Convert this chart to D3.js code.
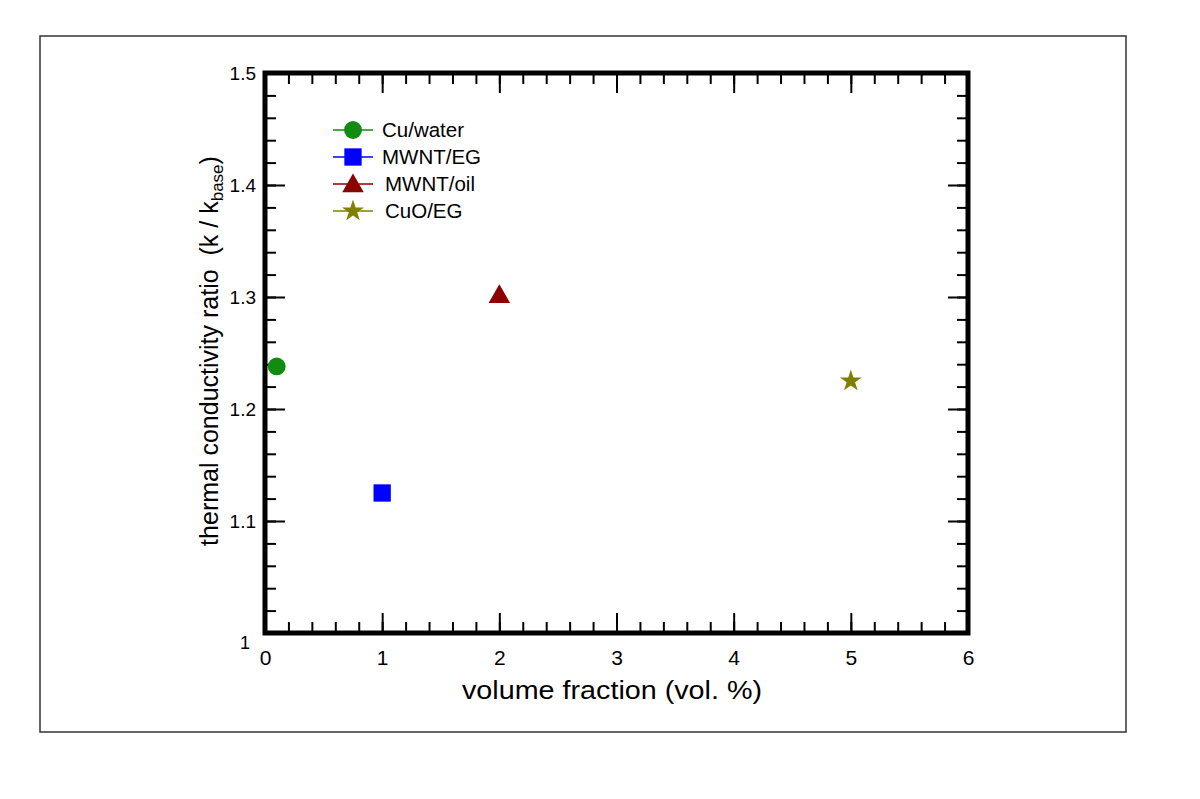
<!DOCTYPE html>
<html><head><meta charset="utf-8">
<script src="https://cdn.jsdelivr.net/npm/d3@7"></script>
<style>body{margin:0;background:#fff}svg{display:block}text{font-family:"Liberation Sans",Arial,sans-serif}</style>
</head><body><svg id="c" width="1200" height="799"></svg>
<script>
const seriesNames = ["Cu/water", "MWNT/EG", "MWNT/oil", "CuO/EG"];
const seriesX = [0.1, 1, 2, 5];
const seriesY = [1.238, 1.125, 1.302, 1.225];
const seriesColors = ["#118c11", "#0000ff", "#8b0000", "#808000"];
const seriesShapes = ["circle", "square", "triangle", "star"];
const xTicks = [0, 1, 2, 3, 4, 5, 6];
const yTicks = [1, 1.1, 1.2, 1.3, 1.4, 1.5];
const yTickLabels = ["1", "1.1", "1.2", "1.3", "1.4", "1.5"];

const svg = d3.select("#c");
const L = 265, R = 968, T = 73, B = 633;
const x = d3.scaleLinear().domain([0, 6]).range([L, R]);
const y = d3.scaleLinear().domain([1, 1.5]).range([B, T]);

// outer frame
svg.append("rect").attr("x", 40).attr("y", 36).attr("width", 1086).attr("height", 696)
  .attr("fill", "none").attr("stroke", "#333").attr("stroke-width", 1.5);

const xMinor = d3.range(0, 6.001, 0.2);
const yMinor = d3.range(1, 1.5001, 0.02);

function tickAxis(gen, pos, minor, major) {
  const gMin = svg.append("g").attr("transform", pos).call(gen.tickValues(minor).tickSize(-11).tickFormat(""));
  const gMaj = svg.append("g").attr("transform", pos).call(gen.tickValues(major).tickSize(-20).tickFormat(""));
  [gMin, gMaj].forEach(g => { g.select(".domain").remove(); g.selectAll("line").attr("stroke", "#000").attr("stroke-width", 2); });
}
tickAxis(d3.axisBottom(x), `translate(0,${B})`, xMinor, xTicks);
tickAxis(d3.axisTop(x), `translate(0,${T})`, xMinor, xTicks);
tickAxis(d3.axisLeft(y), `translate(${L},0)`, yMinor, yTicks);
tickAxis(d3.axisRight(y), `translate(${R},0)`, yMinor, yTicks);

// tick labels
const gxl = svg.append("g").attr("transform", `translate(0,${B})`)
  .call(d3.axisBottom(x).tickValues(xTicks).tickSize(0).tickPadding(17).tickFormat(d3.format("d")));
gxl.select(".domain").remove();
gxl.selectAll("text").attr("font-size", 21).attr("fill", "#000").attr("font-family", "Liberation Sans, Arial, sans-serif");
const gyl = svg.append("g").attr("transform", `translate(${L},0)`)
  .call(d3.axisLeft(y).tickValues(yTicks).tickSize(0).tickPadding(9).tickFormat((d, i) => yTickLabels[i]));
gyl.select(".domain").remove();
gyl.selectAll("text").attr("font-size", 19).attr("fill", "#000").attr("font-family", "Liberation Sans, Arial, sans-serif");
gyl.selectAll("text").filter(d => d === 1).attr("dy", "0.85em").attr("dx", "-6").attr("font-size", 18);

// frame
svg.append("rect").attr("x", L).attr("y", T).attr("width", R - L).attr("height", B - T)
  .attr("fill", "none").attr("stroke", "#000").attr("stroke-width", 5);

// axis titles
svg.append("text").attr("x", 612).attr("y", 699).attr("text-anchor", "middle")
  .attr("font-size", 25).attr("textLength", 300).attr("lengthAdjust", "spacingAndGlyphs")
  .text("volume fraction (vol. %)");
const yt = svg.append("text").attr("transform", `translate(218,351) rotate(-90)`)
  .attr("text-anchor", "middle").attr("font-size", 25);
yt.append("tspan").text("thermal conductivity ratio\u00a0\u00a0(k / k");
yt.append("tspan").attr("font-size", 17).attr("dy", 5).text("base");
yt.append("tspan").attr("dy", -5).text(")");

const symMap = { circle: d3.symbolCircle, square: d3.symbolSquare, triangle: d3.symbolTriangle, star: d3.symbolStar };
const sizeMap = { circle: 250, square: 300, triangle: 200, star: 150 };
function marker(g, i, cx, cy) {
  g.append("path").attr("d", d3.symbol().type(symMap[seriesShapes[i]]).size(sizeMap[seriesShapes[i]])())
    .attr("transform", `translate(${cx},${cy + (seriesShapes[i] === "triangle" ? 2 : 0)})`)
    .attr("fill", seriesColors[i]);
}

// data points
const gp = svg.append("g");
seriesNames.forEach((n, i) => marker(gp, i, x(seriesX[i]), y(seriesY[i])));

// legend
const legY = [130, 157, 184, 211];
const lg = svg.append("g");
seriesNames.forEach((n, i) => {
  lg.append("line").attr("x1", 333).attr("x2", 373).attr("y1", legY[i]).attr("y2", legY[i])
    .attr("stroke", seriesColors[i]).attr("stroke-width", 1.5);
  marker(lg, i, 353, legY[i]);
  lg.append("text").attr("x", i >= 2 ? 385 : 382).attr("y", legY[i]).attr("dy", "0.36em")
    .attr("font-size", 20.5).text(n);
});
</script></body></html>
